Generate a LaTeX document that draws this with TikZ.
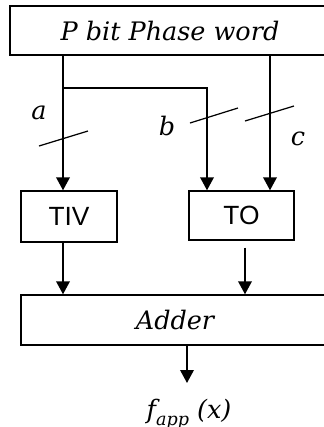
\documentclass[tikz,border=0pt]{standalone}
\usepackage{fontspec}
\newfontfamily\boxfont{Liberation Sans}
\newfontfamily\mathlikefont{DejaVu Serif}
\usetikzlibrary{arrows.meta}

\begin{document}
\begin{tikzpicture}[x=0.02cm,y=-0.02cm,
  every node/.style={font=\mathlikefont\itshape\fontsize{14.5}{17}\selectfont},
  blockbox/.style={draw,line width=0.8pt,inner sep=0pt},
  sansbox/.style={blockbox,font=\boxfont\fontsize{15}{18}\selectfont},
  arr/.style={line width=1.1pt,-{Triangle[width=0.27cm,length=0.26cm]}},
  busmark/.style={line width=0.7pt}]
\useasboundingbox (0,0) rectangle (324,427);

\node[blockbox,minimum width=6.4cm,minimum height=0.98cm] (phase) at (170,30.5)
{P bit Phase word};
\node[sansbox,minimum width=1.92cm,minimum height=1.02cm] (tiv) at (69,216.5) {TIV};
\node[sansbox,minimum width=2.1cm,minimum height=0.98cm] (to) at (241.5,215.5) {TO};
\node[blockbox,minimum width=6.16cm,minimum height=1cm] (adder) at (175,320) {Adder};
\node (out) at (189,414) {f\raisebox{-0.5ex}{\fontsize{10}{12}\selectfont app}\ (x)};

\coordinate (ka) at (63,0);
\coordinate (kb) at (207,88);
\coordinate (kc) at (270,0);
\coordinate (kd) at (245,0);
\coordinate (ke) at (187,0);

\draw[arr] (phase.south -| ka) -- (tiv.north -| ka);
\draw[arr] (ka |- kb) -| (to.north -| kb);
\draw[arr] (phase.south -| kc) -- (to.north -| kc);
\draw[arr] (tiv.south -| ka) -- (adder.north -| ka);
\draw[arr,shorten <=0.14cm] (to.south -| kd) -- (adder.north -| kd);
\draw[arr] (adder.south -| ke) -- (ke |- 0,383);

\draw[busmark] (39,146) -- (88,131);
\draw[busmark] (190,123) -- (238,108);
\draw[busmark] (245,121) -- (294,106);
\node (la) at (39,113) {a};
\node (lb) at (167,126) {b};
\node (lc) at (298,139) {c};
\end{tikzpicture}
\end{document}
